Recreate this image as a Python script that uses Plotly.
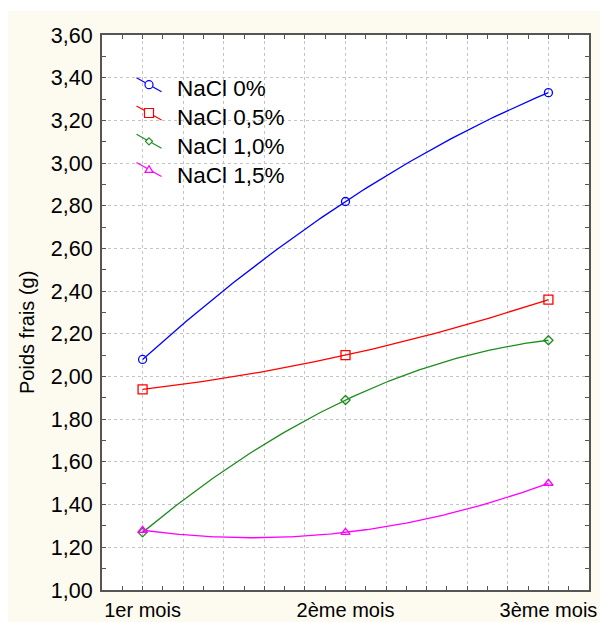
import numpy as np
import plotly.graph_objects as go

# Monthly fresh weight (g) for each salt treatment
months = ["1er mois", "2ème mois", "3ème mois"]
nacl_0 = [2.08, 2.82, 3.33]
nacl_05 = [1.94, 2.10, 2.36]
nacl_10 = [1.27, 1.89, 2.17]
nacl_15 = [1.28, 1.27, 1.50]

series = [
    ("NaCl 0%", nacl_0, "#0000FF", "circle-open", 8),
    ("NaCl 0,5%", nacl_05, "#FF0000", "square-open", 9),
    ("NaCl 1,0%", nacl_10, "#1E8C1E", "diamond-open", 7),
    ("NaCl 1,5%", nacl_15, "#FF00FF", "triangle-up-open", 8),
]

FONT = "Liberation Sans, Arial, sans-serif"
W, H = 600, 622
ML, MR, MT, MB = 102, 11, 35, 32
PW, PH = W - ML - MR, H - MT - MB


def px(x):
    return (x - ML) / PW


def py(y):
    return (H - MB - y) / PH


xpos = np.arange(len(months), dtype=float)
xfine = np.linspace(xpos[0], xpos[-1], 121)

fig = go.Figure()
for name, vals, color, symbol, size in series:
    # quadratic trend through the three monthly means
    coef = np.polyfit(xpos, vals, 2)
    fig.add_trace(go.Scatter(
        x=xfine, y=np.polyval(coef, xfine), mode="lines",
        line=dict(color=color, width=1.3), showlegend=False, hoverinfo="skip"))
    fig.add_trace(go.Scatter(
        x=xpos, y=vals, mode="markers", showlegend=False, name=name,
        marker=dict(symbol=symbol, size=size, color=color,
                    line=dict(width=1.3, color=color))))

# category ticks with a grid every 0.2 between them
xgrid = np.round(np.arange(-0.2, 2.21, 0.2), 2)
xlabels = [months[int(round(v))] if abs(v - round(v)) < 1e-9 and 0 <= round(v) < len(months) else ""
           for v in xgrid]

axis_common = dict(
    showline=True, linecolor="#555555", linewidth=2, mirror="allticks",
    ticks="inside", ticklen=4, tickcolor="#555555", tickwidth=1,
    showgrid=True, gridcolor="#C4C4C4", griddash="dot", gridwidth=1,
    zeroline=False, automargin=False,
    tickfont=dict(family=FONT, size=20, color="#000000"),
)

# hand-drawn legend: slanted key line, marker glyph, label
shapes = [
    # white strips outside the framed panel
    dict(type="rect", xref="paper", yref="paper", layer="below",
         x0=px(0), x1=px(8), y0=py(H), y1=py(0), fillcolor="#FFFFFF", line=dict(width=0)),
    dict(type="rect", xref="paper", yref="paper", layer="below",
         x0=px(0), x1=px(W), y0=py(11), y1=py(0), fillcolor="#FFFFFF", line=dict(width=0)),
]
annotations = [dict(
    text="Poids frais (g)", textangle=-90, showarrow=False,
    xref="paper", yref="paper", x=px(27), y=py(333),
    xanchor="center", yanchor="middle",
    font=dict(family=FONT, size=20, color="#000000"))]

for i, (name, vals, color, symbol, size) in enumerate(series):
    cy = 84.7 + 28.3 * i
    cx = 149.0
    shapes.append(dict(type="line", xref="paper", yref="paper",
                       x0=px(cx - 12.5), y0=py(cy - 7), x1=px(cx + 12.5), y1=py(cy + 7),
                       line=dict(color=color, width=1.2)))
    r = size / 2
    mk = dict(xref="paper", yref="paper", line=dict(color=color, width=1.2), fillcolor="#FFFFFF")
    if symbol.startswith("circle"):
        shapes.append(dict(type="circle", x0=px(cx - r), x1=px(cx + r), y0=py(cy + r), y1=py(cy - r), **mk))
    elif symbol.startswith("square"):
        shapes.append(dict(type="rect", x0=px(cx - r), x1=px(cx + r), y0=py(cy + r), y1=py(cy - r), **mk))
    elif symbol.startswith("diamond"):
        path = (f"M {px(cx)} {py(cy - r)} L {px(cx + r)} {py(cy)} "
                f"L {px(cx)} {py(cy + r)} L {px(cx - r)} {py(cy)} Z")
        shapes.append(dict(type="path", path=path, **mk))
    else:
        path = (f"M {px(cx)} {py(cy - r)} L {px(cx + r)} {py(cy + r * 0.7)} "
                f"L {px(cx - r)} {py(cy + r * 0.7)} Z")
        shapes.append(dict(type="path", path=path, **mk))
    annotations.append(dict(
        text=name, showarrow=False, xref="paper", yref="paper",
        x=px(175), y=py(88.7 + 28.8 * i), xanchor="left", yanchor="middle",
        font=dict(family=FONT, size=22.5, color="#000000")))

fig.update_layout(
    width=W, height=H,
    margin=dict(l=ML, r=MR, t=MT, b=MB),
    paper_bgcolor="#FDFAF0", plot_bgcolor="#FFFFFF",
    separators=", ",
    font=dict(family=FONT, color="#000000"),
    xaxis=dict(range=[-0.2, 2.2], tickmode="array", tickvals=xgrid, ticktext=xlabels,
               ticklabelstandoff=1,
               minor=dict(tickmode="linear", tick0=0, dtick=0.1, ticks="inside",
                          ticklen=4, tickcolor="#555555", showgrid=False),
               **axis_common),
    yaxis=dict(range=[1.0, 3.6], tickmode="linear", tick0=1.0, dtick=0.2,
               tickformat=".2f", ticklabelstandoff=3,
               minor=dict(tickmode="linear", tick0=1.0, dtick=0.1, ticks="inside",
                          ticklen=4, tickcolor="#555555", showgrid=False),
               **axis_common),
    showlegend=False,
    annotations=annotations,
    shapes=shapes,
)
fig.update_yaxes(tickfont=dict(size=21.5))

fig.write_html("out.html")
